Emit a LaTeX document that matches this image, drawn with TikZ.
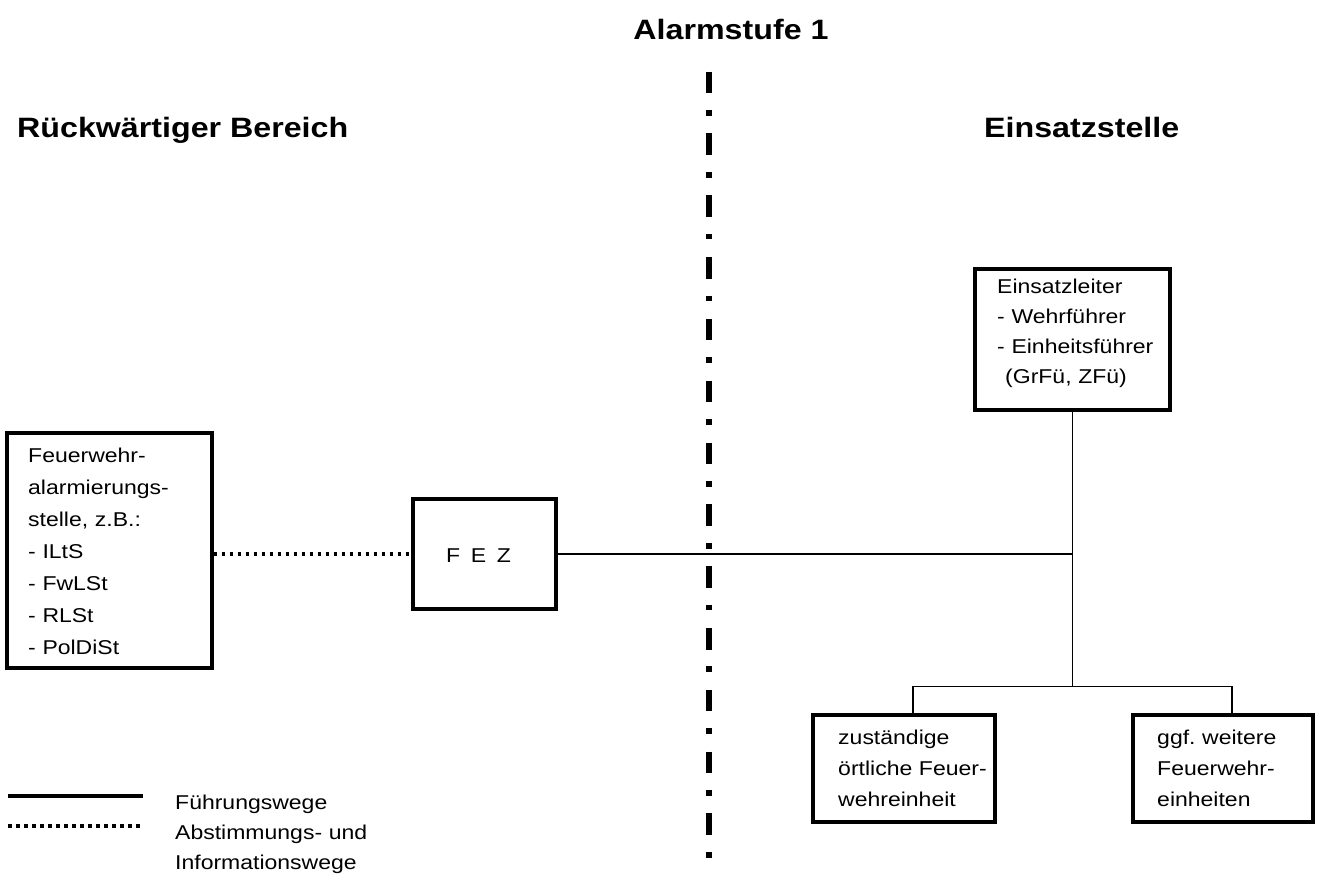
\documentclass[tikz,border=0pt]{standalone}
\usepackage{fontspec}
\setmainfont{Liberation Sans}[FakeStretch=1.15]
\frenchspacing
\begin{document}
\begin{tikzpicture}[x=1pt,y=-1pt,
  box/.style={draw,line width=3.3pt,rectangle,inner sep=0pt},
  conn/.style={line width=1.5pt},
  dotline/.style={line width=3.5pt,dash pattern=on 3.5pt off 4.5pt},
  divider/.style={line width=5.5pt,dash pattern=on 21.6pt off 16.9pt on 5.7pt off 17.6pt},
  txt/.style={inner sep=0pt,anchor=base west,align=left,font=\fontsize{20}{32}\selectfont},
  head/.style={inner sep=0pt,font=\fontsize{28}{32}\selectfont\bfseries}]
\useasboundingbox (0,0) rectangle (1343,882);
% headings
\node[head,anchor=base] (hAlarm) at (731,40) {Alarmstufe 1};
\node[head,anchor=base west] (hRueck) at (17,138) {Rückwärtiger Bereich};
\node[head,anchor=base west] (hEins) at (984,138) {Einsatzstelle};
% divider
\coordinate (dTop) at (709,71.7);
\coordinate (dBot) at (709,860);
\draw[divider] (dTop) -- (dBot);
% boxes
\node[box,minimum width=205pt,minimum height=235pt] (alarm) at (109.5,550.5) {};
\node[txt,text width=170pt] (alarmT) at (28,462) {Feuerwehr-\\alarmierungs-\\stelle, z.B.:\\- ILtS\\- FwLSt\\- RLSt\\- PolDiSt};
\node[box,minimum width=143pt,minimum height=110pt] (fez) at (484.5,554) {};
\node[txt,text width=100pt] (fezT) at (446,562) {F\ \hspace{4pt}E\ \hspace{4pt}Z};
\node[box,minimum width=195pt,minimum height=141pt] (leiter) at (1072.5,339.5) {};
\node[txt,text width=170pt,font=\fontsize{20}{30}\selectfont] (leiterT) at (997,294) {Einsatzleiter\\- Wehrführer\\- Einheitsführer\\\hspace*{8pt}(GrFü, ZFü)};
\node[box,minimum width=182pt,minimum height=107pt] (zust) at (904,768.5) {};
\node[txt,text width=160pt,font=\fontsize{20}{31}\selectfont] (zustT) at (838,744) {zuständige\\örtliche Feuer-\\wehreinheit};
\node[box,minimum width=180pt,minimum height=107pt] (weit) at (1223,768.5) {};
\node[txt,text width=160pt,font=\fontsize{20}{31}\selectfont] (weitT) at (1157,744) {ggf. weitere\\Feuerwehr-\\einheiten};
% connectors
\draw[dotline] (alarm.east |- fez.west) -- (fez.west);
\coordinate (jMid) at (fez.east -| leiter.south);
\coordinate (jLow) at ([yshift=27pt]zust.north -| leiter.south);
\coordinate (zTop) at ([xshift=9pt]zust.north);
\coordinate (wTop) at ([xshift=9pt]weit.north);
\draw[conn] (fez.east) -- (jMid);
\draw[conn] (leiter.south) -- (jLow);
\draw[conn] (zTop) -- (zTop |- jLow) -- (wTop |- jLow) -- (wTop);
% legend
\coordinate (lA1) at (8,796); \coordinate (lA2) at (143,796);
\coordinate (lB1) at (8,826); \coordinate (lB2) at (143,826);
\draw[line width=3.5pt] (lA1) -- (lA2);
\draw[dotline] (lB1) -- (lB2);
\node[txt,text width=250pt,font=\fontsize{20}{30}\selectfont] (legT) at (175,809) {Führungswege\\Abstimmungs- und\\Informationswege};
\end{tikzpicture}
\end{document}
